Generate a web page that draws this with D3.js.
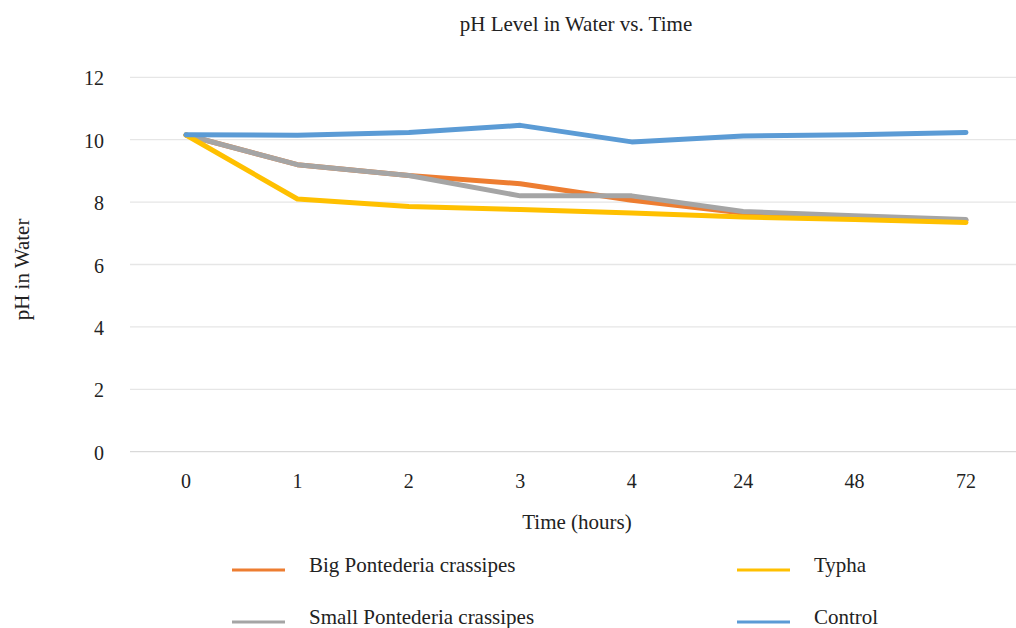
<!DOCTYPE html>
<html><head><meta charset="utf-8">
<script src="https://cdn.jsdelivr.net/npm/d3@7"></script>
</head><body style="margin:0">
<script>
const categories = ["0","1","2","3","4","24","48","72"];
const bigPontederia = [10.15, 9.2, 8.85, 8.59, 8.06, 7.65, 7.5, 7.42];
const smallPontederia = [10.15, 9.2, 8.85, 8.2, 8.2, 7.7, 7.56, 7.44];
const typha = [10.15, 8.1, 7.86, 7.76, 7.65, 7.52, 7.44, 7.35];
const control = [10.16, 10.14, 10.23, 10.46, 9.93, 10.12, 10.16, 10.23];
const yTicks = [0,2,4,6,8,10,12];
const seriesNames = ["Big Pontederia crassipes","Small Pontederia crassipes","Typha","Control"];
const seriesColors = ["#ED7D31","#A5A5A5","#FFC000","#5B9BD5"];
const seriesData = [bigPontederia, smallPontederia, typha, control];

const W=1016,H=628;
const FONT="'Liberation Serif'";
const TXT="#222222";
const svg=d3.select("body").append("svg").attr("width",W).attr("height",H);
const x=d3.scalePoint().domain(categories).range([186,966]);
const y=d3.scaleLinear().domain([0,12]).range([451.7,77.3]);

function txt(sel,size){return sel.style("font-family",FONT).attr("font-size",size).attr("fill",TXT);}

svg.append("g").selectAll("line").data(yTicks).join("line")
  .attr("x1",130).attr("x2",1021).attr("y1",d=>y(d)).attr("y2",d=>y(d))
  .attr("stroke",d=>d===0?"#d9d9d9":"#e6e6e6").attr("stroke-width",1.3);
txt(svg.append("g").selectAll("text").data(yTicks).join("text")
  .attr("x",104).attr("y",d=>y(d)+8).attr("text-anchor","end").text(d=>d),20);
txt(svg.append("g").selectAll("text").data(categories).join("text")
  .attr("x",d=>x(d)).attr("y",487.5).attr("text-anchor","middle").text(d=>d),20);

const line=d3.line().x((d,i)=>x(categories[i])).y(d=>y(d));
seriesData.forEach((s,k)=>{
  svg.append("path").datum(s).attr("d",line).attr("fill","none")
    .attr("stroke",seriesColors[k]).attr("stroke-width",5)
    .attr("stroke-linecap","round").attr("stroke-linejoin","round");
});

txt(svg.append("text").attr("x",576).attr("y",30.5).attr("text-anchor","middle").text("pH Level in Water vs. Time"),21);
txt(svg.append("text").attr("x",577).attr("y",529).attr("text-anchor","middle").text("Time (hours)"),21);
txt(svg.append("text").attr("transform","translate(29,269.5) rotate(-90)").attr("text-anchor","middle").text("pH in Water"),21);

const legPos=[[232,570],[232,622],[737,570],[737,622]];
seriesNames.forEach((n,k)=>{
  const [lx,ly]=legPos[k];
  svg.append("line").attr("x1",lx).attr("x2",lx+53).attr("y1",ly).attr("y2",ly)
    .attr("stroke",seriesColors[k]).attr("stroke-width",3);
  txt(svg.append("text").attr("x",lx+77).attr("y",ly+1.5).text(n),21);
});
</script>
</body></html>
